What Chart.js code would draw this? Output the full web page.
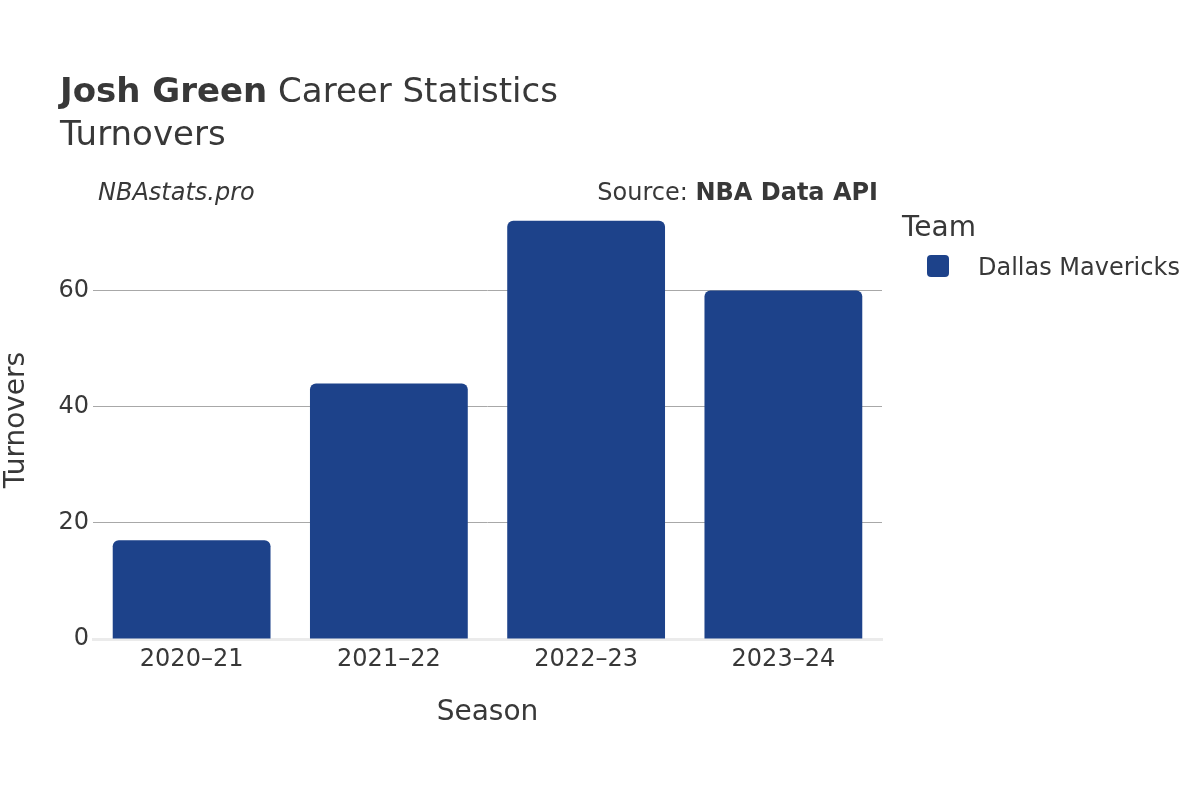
<!DOCTYPE html>
<html>
<head>
<meta charset="utf-8">
<script src="https://cdn.jsdelivr.net/npm/chart.js@4"></script>
<style>
html,body{margin:0;padding:0;background:#fff;}
canvas{display:block;}
</style>
</head>
<body>
<canvas id="c" width="1200" height="800"></canvas>
<script>
const seasons = ["2020–21", "2021–22", "2022–23", "2023–24"];
const turnovers = [17, 44, 72, 60];
const yTickValues = [0, 20, 40, 60];
const teamName = "Dallas Mavericks";
const teamColor = "#1D428A";
const playerName = "Josh Green";
const titleRest = " Career Statistics";
const statName = "Turnovers";
const siteName = "NBAstats.pro";
const sourceLabel = "Source: ";
const sourceName = "NBA Data API";

const FONT = "'DejaVu Sans', sans-serif";
const TXT = "#383838";

const textPlugin = {
  id: 'texts',
  afterDraw(chart) {
    const ctx = chart.ctx;
    ctx.save();
    ctx.fillStyle = TXT;
    ctx.textBaseline = 'alphabetic';
    ctx.textAlign = 'left';
    // Title
    ctx.font = "bold 34px " + FONT;
    ctx.fillText(playerName, 60, 102);
    const w = ctx.measureText(playerName).width;
    ctx.font = "34px " + FONT;
    ctx.fillText(titleRest, 60 + w, 102);
    ctx.fillText(statName, 60, 145);
    // Site
    ctx.font = "italic 24px " + FONT;
    ctx.fillText(siteName, 98, 200);
    // Source
    ctx.textAlign = 'right';
    ctx.font = "bold 24px " + FONT;
    ctx.fillText(sourceName, 878, 200);
    const sw = ctx.measureText(sourceName).width;
    ctx.font = "24px " + FONT;
    ctx.fillText(sourceLabel, 878 - sw, 200);
    // Legend
    ctx.textAlign = 'left';
    ctx.font = "28px " + FONT;
    ctx.fillText("Team", 902, 236);
    ctx.font = "24px " + FONT;
    ctx.fillText(chart.data.datasets[0].label, 978, 275);
    ctx.fillStyle = chart.data.datasets[0].backgroundColor;
    ctx.beginPath();
    ctx.roundRect(927, 255, 22, 22, 4);
    ctx.fill();
    ctx.restore();
  }
};

new Chart(document.getElementById('c'), {
  type: 'bar',
  data: {
    labels: seasons,
    datasets: [{
      label: teamName,
      data: turnovers,
      backgroundColor: teamColor,
      borderRadius: {topLeft: 6, topRight: 6, bottomLeft: 0, bottomRight: 0},
      borderSkipped: 'bottom',
      categoryPercentage: 0.8,
      barPercentage: 1.0
    }]
  },
  options: {
    responsive: false,
    devicePixelRatio: 1,
    animation: false,
    layout: {padding: {left: 0, top: 201, right: 318, bottom: 0}},
    plugins: {legend: {display: false}, tooltip: {enabled: false}, title: {display: false}},
    scales: {
      x: {
        grid: {display: false, drawTicks: false},
        border: {display: true, color: '#ebebeb', width: 3},
        ticks: {color: TXT, font: {family: FONT, size: 24}, padding: 6, maxRotation: 0},
        title: {display: true, text: 'Season', color: TXT, font: {family: FONT, size: 28}, padding: {top: 0, bottom: 70}},
        afterFit(s) { s.height = 161; }
      },
      y: {
        min: 0,
        max: 75.4,
        afterBuildTicks(s) { s.ticks = yTickValues.map(v => ({value: v})); },
        grid: {
          drawTicks: false,
          color: ctx => (ctx.tick && ctx.tick.value === 0) ? 'rgba(0,0,0,0)' : '#a8a8a8',
          lineWidth: 1
        },
        border: {display: false},
        ticks: {color: TXT, font: {family: FONT, size: 24}, padding: 4},
        title: {display: true, text: statName, color: TXT, font: {family: FONT, size: 28}, padding: {top: 0, bottom: 0}},
        afterFit(s) { s.width = 93; }
      }
    }
  },
  plugins: [textPlugin]
});
</script>
</body>
</html>
